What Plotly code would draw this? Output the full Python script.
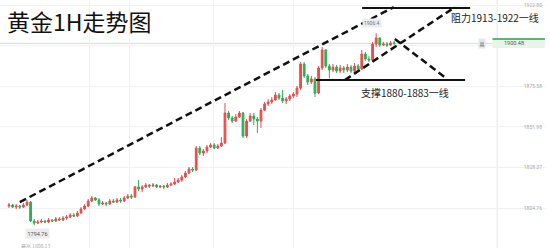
import plotly.graph_objects as go

# ---- data ----
open_ = [1805.9, 1806.5, 1805.3, 1805.9, 1805.3, 1806.5, 1808.2, 1797.2, 1796.0, 1796.6,
         1797.2, 1796.6, 1797.8, 1797.2, 1798.4, 1797.8, 1798.9, 1799.5, 1800.7, 1800.1,
         1801.8, 1804.2, 1805.9, 1808.8, 1810.6, 1809.4, 1807.1, 1807.7, 1807.1, 1808.8,
         1808.2, 1809.4, 1808.8, 1810.6, 1811.7, 1811.1, 1817.0, 1815.8, 1817.0, 1818.1,
         1817.5, 1818.1, 1817.0, 1817.5, 1817.0, 1818.1, 1818.7, 1819.9, 1821.0, 1822.8,
         1825.1, 1827.4, 1826.8, 1839.6, 1836.7, 1837.9, 1840.2, 1841.4, 1839.6, 1840.8,
         1842.5, 1860.0, 1857.1, 1855.3, 1857.7, 1860.0, 1846.6, 1855.3, 1858.3, 1856.5,
         1855.3, 1861.7, 1865.2, 1866.4, 1867.6, 1870.5, 1868.7, 1867.0, 1868.1, 1869.9,
         1871.0, 1874.5, 1888.5, 1881.5, 1878.0, 1879.8, 1871.6, 1886.2, 1896.6, 1887.3,
         1885.0, 1886.7, 1884.4, 1886.2, 1885.0, 1886.7, 1884.4, 1887.3, 1885.6, 1894.3,
         1891.4, 1890.8, 1900.1, 1903.6, 1899.5, 1900.1, 1899.5, 1900.7]
close = [1806.5, 1805.3, 1805.9, 1805.3, 1806.5, 1808.2, 1797.2, 1796.0, 1796.6, 1797.2,
         1796.6, 1797.8, 1797.2, 1798.4, 1797.8, 1798.9, 1799.5, 1800.7, 1800.1, 1801.8,
         1804.2, 1805.9, 1808.8, 1810.6, 1809.4, 1807.1, 1807.7, 1807.1, 1808.8, 1808.2,
         1809.4, 1808.8, 1810.6, 1811.7, 1811.1, 1817.0, 1815.8, 1817.0, 1818.1, 1817.5,
         1818.1, 1817.0, 1817.5, 1817.0, 1818.1, 1818.7, 1819.9, 1821.0, 1822.8, 1825.1,
         1827.4, 1826.8, 1839.6, 1836.7, 1837.9, 1840.2, 1841.4, 1839.6, 1840.8, 1842.5,
         1860.0, 1857.1, 1855.3, 1857.7, 1860.0, 1846.6, 1855.3, 1858.3, 1856.5, 1855.3,
         1861.7, 1865.2, 1866.4, 1867.6, 1870.5, 1868.7, 1867.0, 1868.1, 1869.9, 1871.0,
         1874.5, 1888.5, 1881.5, 1878.0, 1879.8, 1871.6, 1886.2, 1896.6, 1887.3, 1885.0,
         1886.7, 1884.4, 1886.2, 1885.0, 1886.7, 1884.4, 1887.3, 1885.6, 1894.3, 1891.4,
         1890.8, 1900.1, 1903.6, 1899.5, 1900.1, 1899.5, 1900.7, 1900.48]
high = [1807.7, 1807.1, 1807.1, 1806.5, 1807.7, 1809.4, 1808.8, 1798.4, 1797.8, 1798.4,
        1797.8, 1798.9, 1798.4, 1799.5, 1799.5, 1800.1, 1800.7, 1801.8, 1801.8, 1803.0,
        1805.3, 1807.1, 1810.0, 1811.7, 1811.1, 1810.6, 1808.8, 1808.2, 1810.0, 1810.0,
        1810.6, 1810.6, 1811.7, 1812.9, 1812.9, 1817.5, 1821.0, 1818.1, 1819.3, 1818.7,
        1819.3, 1818.7, 1818.1, 1818.1, 1819.3, 1819.9, 1822.2, 1822.2, 1823.9, 1826.3,
        1828.6, 1828.6, 1840.8, 1840.8, 1839.1, 1841.4, 1842.5, 1842.5, 1842.0, 1846.0,
        1865.8, 1861.2, 1858.3, 1859.4, 1861.2, 1860.6, 1856.5, 1860.0, 1860.0, 1857.7,
        1862.9, 1866.4, 1868.1, 1869.3, 1872.2, 1871.6, 1873.4, 1869.3, 1871.0, 1872.2,
        1875.7, 1889.6, 1889.6, 1882.7, 1881.5, 1880.9, 1887.3, 1898.4, 1897.2, 1888.5,
        1888.5, 1887.9, 1887.9, 1887.3, 1888.5, 1887.9, 1889.1, 1888.5, 1896.6, 1895.5,
        1893.1, 1901.3, 1906.4, 1904.2, 1901.3, 1901.3, 1901.9, 1901.9]
low = [1804.8, 1804.8, 1804.2, 1804.2, 1804.8, 1805.9, 1796.6, 1794.76, 1795.4, 1796.0,
       1796.0, 1796.0, 1796.6, 1796.6, 1797.2, 1797.2, 1797.8, 1798.9, 1799.5, 1799.5,
       1801.3, 1803.6, 1805.3, 1808.2, 1808.8, 1805.9, 1806.5, 1805.9, 1806.5, 1807.7,
       1807.7, 1807.7, 1808.2, 1810.0, 1810.0, 1810.6, 1814.6, 1814.1, 1816.4, 1816.4,
       1817.0, 1816.4, 1816.4, 1815.8, 1816.4, 1817.5, 1818.1, 1819.3, 1819.9, 1822.2,
       1824.5, 1825.7, 1826.3, 1835.6, 1835.0, 1836.7, 1839.6, 1839.1, 1839.1, 1840.2,
       1842.0, 1855.9, 1854.2, 1854.8, 1857.1, 1845.5, 1845.5, 1854.8, 1853.0, 1848.4,
       1851.3, 1861.2, 1864.1, 1865.2, 1867.0, 1867.6, 1865.8, 1865.2, 1867.0, 1868.7,
       1869.3, 1873.4, 1880.3, 1876.3, 1876.9, 1869.3, 1871.0, 1885.0, 1886.2, 1880.3,
       1883.8, 1883.3, 1883.3, 1883.3, 1883.8, 1883.3, 1883.8, 1884.4, 1885.0, 1890.2,
       1889.6, 1890.2, 1898.4, 1898.4, 1899.0, 1898.4, 1899.0, 1899.5]
bars = list(range(len(close)))

price_ticks = [1781.15, 1804.76, 1828.37, 1851.98, 1875.58, 1899.19, 1922.80]
tick_labels = ["1781.15", "1804.76", "1828.37", "1851.98", "1875.58", "", "1922.80"]
last_price = 1900.48
high_mark = 1906.4
low_mark = 1794.76
resistance = (1913, 1922)
support = (1880, 1883)

# ---- figure ----
fig = go.Figure()
fig.add_trace(go.Candlestick(
    x=bars, open=open_, high=high, low=low, close=close,
    increasing=dict(line=dict(color="#eb4d4b", width=1), fillcolor="#eb4d4b"),
    decreasing=dict(line=dict(color="#2fae55", width=1), fillcolor="#2fae55"),
    whiskerwidth=0, hoverinfo="skip", showlegend=False,
))

dash_style = "7px,4px"
blk = "#111111"
shapes = [
    # current price line
    dict(type="line", xref="paper", yref="y", x0=0, x1=1, y0=last_price, y1=last_price,
         line=dict(color="#c6e6c8", width=1), layer="below"),
    # vertical separator
    dict(type="line", xref="x", yref="paper", x0=135.6, x1=135.6, y0=0, y1=1,
         line=dict(color="#e6e6e6", width=1), layer="below"),
    # long trend line
    dict(type="line", xref="x", yref="y", x0=3.0, y0=1808.2, x1=106.9, y1=1921.6,
         line=dict(color=blk, width=2.5, dash=dash_style)),
    # channel lower line
    dict(type="line", xref="x", yref="y", x0=93.3, y0=1879.2, x1=123.9, y1=1921.6,
         line=dict(color=blk, width=2.5, dash=dash_style)),
    # pullback line
    dict(type="line", xref="x", yref="y", x0=107.2, y0=1903.0, x1=121.7, y1=1879.8,
         line=dict(color=blk, width=2.5, dash=dash_style)),
    # resistance line
    dict(type="line", xref="x", yref="y", x0=98.1, y0=1921.0, x1=128.1, y1=1921.0,
         line=dict(color=blk, width=2)),
    # support line
    dict(type="line", xref="x", yref="y", x0=85.3, y0=1879.2, x1=126.7, y1=1879.2,
         line=dict(color=blk, width=2)),
    # last price tag
    dict(type="rect", xref="paper", yref="y", x0=497/550, x1=1.0, y0=1897.8, y1=1903.0,
         fillcolor="#e7f5e8", line=dict(width=0), layer="below"),
    dict(type="line", xref="paper", yref="y", x0=497/550, x1=1.0, y0=1903.0, y1=1903.0,
         line=dict(color="#2e9e4e", width=1.5)),
]

cjk = "Noto Sans CJK SC"
annotations = [
    dict(text="黄金1H走势图", xref="paper", yref="paper", x=5/550, y=1-21/248,
         xanchor="left", yanchor="middle", showarrow=False,
         font=dict(family=cjk, size=23, color="#111111")),
    dict(text=f"阻力{resistance[0]}-{resistance[1]}一线", xref="paper", yref="paper",
         x=453/550, y=1-17/248, xanchor="left", yanchor="middle", showarrow=False,
         font=dict(family=cjk, size=10, color="#222222")),
    dict(text=f"支撑{support[0]}-{support[1]}一线", xref="paper", yref="paper",
         x=362/550, y=1-92.5/248, xanchor="left", yanchor="middle", showarrow=False,
         font=dict(family=cjk, size=10, color="#222222")),
    dict(text=f"{last_price:.2f}", xref="paper", yref="y", x=519/550, y=last_price,
         xanchor="center", yanchor="middle", showarrow=False,
         font=dict(family="Roboto", size=5.5, color="#555555")),
    dict(text="幕", xref="paper", yref="y", x=486/550, y=last_price,
         xanchor="center", yanchor="middle", showarrow=False, bgcolor="#e4e7ec",
         font=dict(family=cjk, size=5, color="#777777"), borderpad=0.5),
    dict(text=f"{high_mark}", xref="paper", yref="paper", x=375/550, y=1-23.5/248,
         xanchor="center", yanchor="middle", showarrow=False, bgcolor="#e9edf2",
         borderpad=1, font=dict(family="Roboto", size=5, color="#777777")),
    dict(text=f"{low_mark:.2f}", xref="paper", yref="paper", x=37.5/550, y=1-233.5/248,
         xanchor="center", yanchor="middle", showarrow=False, bgcolor="#e9edf2",
         borderpad=1.5, font=dict(family="Roboto", size=5.5, color="#555555")),
    dict(text="最高 1800.13", xref="paper", yref="paper", x=36/550, y=1-246/248,
         xanchor="center", yanchor="middle", showarrow=False,
         font=dict(family=cjk, size=5, color="#aaaaaa")),
]

vgrid = [22.5, 33.6, 56.7, 78.9]

fig.update_layout(
    width=550, height=248,
    margin=dict(l=0, r=5, t=0, b=0),
    paper_bgcolor="white", plot_bgcolor="white",
    shapes=shapes, annotations=annotations,
    hovermode=False,
    xaxis=dict(range=[-2.5, 148.9], rangeslider=dict(visible=False),
               showticklabels=False, ticks="", tickvals=vgrid, showgrid=True,
               gridcolor="#f1f1f1", zeroline=False, showline=False, fixedrange=True),
    yaxis=dict(range=[1781.50, 1925.71], side="right", ticklabelposition="inside",
               tickvals=price_ticks, ticktext=tick_labels, showgrid=True,
               gridcolor="#f1f1f1", zeroline=False, showline=False,
               tickfont=dict(family="Roboto", size=5, color="#aaaaaa"), fixedrange=True),
)

fig.write_html("out.html", config=dict(displayModeBar=False, staticPlot=True))
